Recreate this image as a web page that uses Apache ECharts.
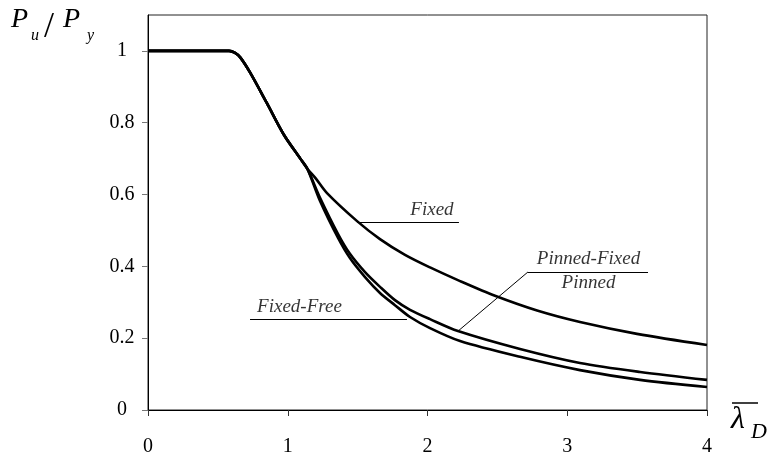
<!DOCTYPE html>
<html>
<head>
<meta charset="utf-8">
<script src="https://cdn.jsdelivr.net/npm/echarts@6/dist/echarts.min.js"></script>
<style>
  html, body { margin: 0; padding: 0; background: #fff; }
  #chart { width: 769px; height: 458px; }
</style>
</head>
<body>
<div id="chart"></div>
<script>
// Shared part of the three strength curves (slenderness -> Pu/Py)
const sharedLambda = [0, 0.58, 0.62, 0.66, 0.73, 0.85, 0.97, 1.09, 1.14];
const sharedRatio  = [1, 1, 0.995, 0.982, 0.94, 0.855, 0.768, 0.70, 0.672];

// Branches after the curves separate
const fixedLambda = [1.2, 1.281, 1.496, 1.66, 1.839, 2.018, 2.233, 2.483, 2.784, 3.091, 3.499, 4];
const fixedRatio  = [0.645, 0.604, 0.526, 0.476, 0.432, 0.397, 0.359, 0.318, 0.277, 0.245, 0.212, 0.181];

const pinnedLambda = [1.231, 1.36, 1.445, 1.553, 1.66, 1.767, 1.875, 2.018, 2.218, 2.662, 3.091, 3.521, 4];
const pinnedRatio  = [0.591, 0.490, 0.435, 0.384, 0.343, 0.306, 0.279, 0.253, 0.220, 0.170, 0.131, 0.106, 0.084];

const fixedFreeLambda = [1.231, 1.36, 1.445, 1.553, 1.66, 1.767, 1.875, 2.018, 2.233, 2.662, 3.091, 3.521, 4];
const fixedFreeRatio  = [0.582, 0.479, 0.423, 0.370, 0.326, 0.292, 0.259, 0.228, 0.192, 0.148, 0.111, 0.084, 0.064];

// Axis ticks
const xTicks = [0, 1, 2, 3, 4];
const yTicks = [0, 0.2, 0.4, 0.6, 0.8, 1];

// Curve labels and their leader lines (data coordinates)
const labelNames   = ['Fixed', 'Fixed-Free', 'Pinned-Fixed', 'Pinned'];
const labelAnchors = [[2.032, 0.557], [1.084, 0.288], [3.152, 0.4206], [3.152, 0.3524]];
const leaderLines = [
  [[1.4955, 0.5237], [2.225, 0.5237]],
  [[0.730, 0.2535], [1.853, 0.2535]],
  [[2.719, 0.3844], [3.578, 0.3844]],
  [[2.719, 0.3844], [2.211, 0.2173]]
];

function curve(lx, ly, bx, by) {
  const pts = lx.map((x, i) => [x, ly[i]]);
  return pts.concat(bx.map((x, i) => [x, by[i]]));
}

const SERIF = '"Liberation Serif", "DejaVu Serif", serif';
const curveStyle = { color: '#000', width: 2.6 };

const chart = echarts.init(document.getElementById('chart'), null, { renderer: 'canvas' });

const lineSeries = (name, data) => ({
  name, type: 'line', data, smooth: 0.3,
  showSymbol: false, symbol: 'none', lineStyle: curveStyle, silent: true, z: 3
});

chart.setOption({
  animation: false,
  backgroundColor: '#fff',
  grid: { left: 148, right: 62, top: 15, bottom: 48, show: true, borderColor: '#222', borderWidth: 1 },
  xAxis: {
    type: 'value', min: 0, max: 4, interval: 1,
    axisLine: { lineStyle: { color: '#000', width: 1 } },
    axisTick: { show: true, length: 6, inside: false, lineStyle: { color: '#333' } },
    axisLabel: { fontFamily: SERIF, fontSize: 20, color: '#000', margin: 27,
      formatter: v => (xTicks.includes(v) ? String(v) : '') },
    splitLine: { show: false }
  },
  yAxis: {
    type: 'value', min: 0, max: 1.1, interval: 0.2,
    axisLine: { show: true, lineStyle: { color: '#000', width: 1 } },
    axisTick: { show: true, length: 6, customValues: yTicks, lineStyle: { color: '#777' } },
    axisLabel: {
      fontFamily: SERIF, fontSize: 20, color: '#000', margin: 26, align: 'center',
      customValues: yTicks,
      formatter: v => (yTicks.some(t => Math.abs(t - v) < 1e-9) ? String(+v.toFixed(1)) : '')
    },
    splitLine: { show: false }
  },
  series: [
    lineSeries('Fixed', curve(sharedLambda, sharedRatio, fixedLambda, fixedRatio)),
    lineSeries('Pinned', curve(sharedLambda, sharedRatio, pinnedLambda, pinnedRatio)),
    lineSeries('Fixed-Free', curve(sharedLambda, sharedRatio, fixedFreeLambda, fixedFreeRatio)),
    {
      type: 'line', data: [], silent: true,
      markLine: {
        silent: true, symbol: 'none', animation: false,
        lineStyle: { color: '#000', width: 1, type: 'solid' },
        label: { show: false },
        emphasis: { disabled: true },
        data: leaderLines.map(([a, b]) => [{ coord: a }, { coord: b }])
      }
    },
    {
      type: 'scatter', symbolSize: 0, silent: true, z: 5,
      data: labelNames.map((n, i) => ({ name: n, value: labelAnchors[i] })),
      label: {
        show: true, position: 'inside', formatter: p => p.name,
        fontFamily: SERIF, fontStyle: 'italic', fontSize: 19, color: '#000'
      }
    }
  ],
  graphic: [
    // Pu / Py
    { type: 'text', left: 11, top: 6, style: { text: 'P', font: 'italic 28px ' + SERIF, fill: '#000' } },
    { type: 'text', left: 31, top: 28, style: { text: 'u', font: 'italic 16px ' + SERIF, fill: '#000' } },
    { type: 'text', left: 44, top: 10, style: { text: '/', font: '36px ' + SERIF, fill: '#000' } },
    { type: 'text', left: 63, top: 6, style: { text: 'P', font: 'italic 28px ' + SERIF, fill: '#000' } },
    { type: 'text', left: 87, top: 28, style: { text: 'y', font: 'italic 16px ' + SERIF, fill: '#000' } },
    // lambda-bar with subscript D
    { type: 'line', shape: { x1: 732, y1: 403, x2: 758, y2: 403 }, style: { stroke: '#000', lineWidth: 1.5 } },
    { type: 'text', left: 731, top: 404, style: { text: 'λ', font: 'italic 32px ' + SERIF, fill: '#000' } },
    { type: 'text', left: 751, top: 421, style: { text: 'D', font: 'italic 22px ' + SERIF, fill: '#000' } }
  ]
});
</script>
</body>
</html>
